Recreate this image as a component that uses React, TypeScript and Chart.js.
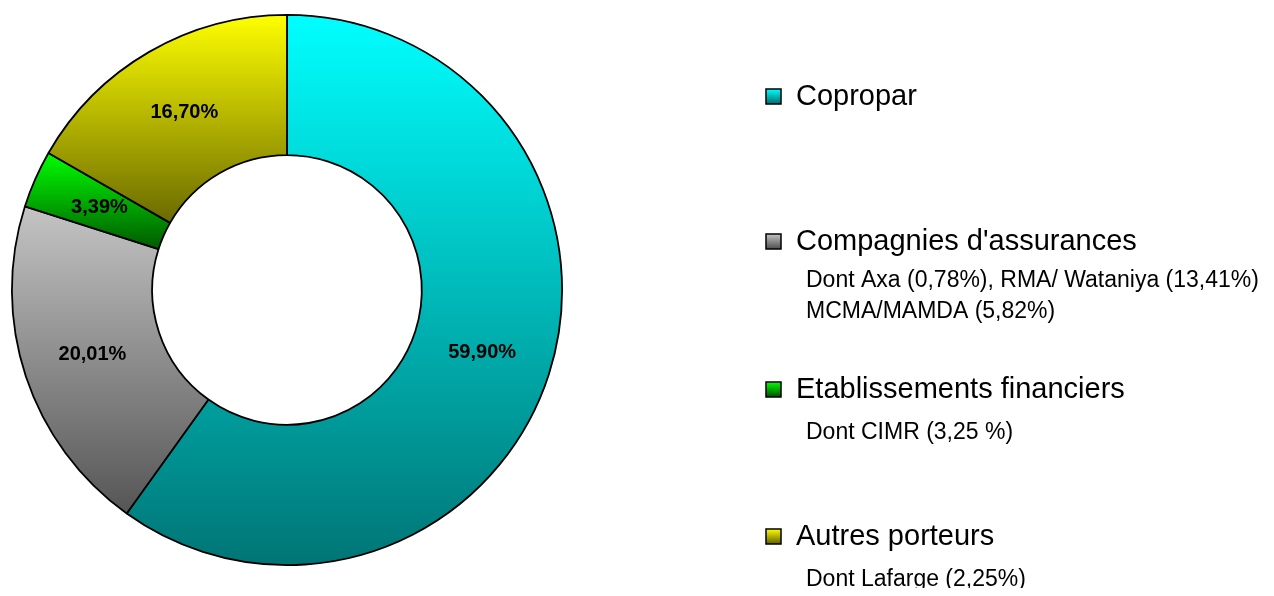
import React, { useEffect, useRef } from "react";
import { Chart, registerables } from "chart.js";

Chart.register(...registerables);

const categories = ["Copropar", "Compagnies d'assurances", "Etablissements financiers", "Autres porteurs"];
const shares = [59.9, 20.01, 3.39, 16.7];
const valueLabels = ["59,90%", "20,01%", "3,39%", "16,70%"];
const subLabels: string[][] = [
  [],
  ["Dont Axa (0,78%), RMA/ Wataniya (13,41%)", "MCMA/MAMDA (5,82%)"],
  ["Dont CIMR (3,25 %)"],
  ["Dont Lafarge (2,25%)"],
];
const topColors = ["#00FFFF", "#C4C4C4", "#00FF00", "#FFFF00"];
const bottomColors = ["#007575", "#555555", "#005A00", "#6A6A00"];

const CUTOUT = 0.49;
const FONT = "'Liberation Sans', Arial, sans-serif";

function segmentGradient(ctx: any) {
  const chart = ctx.chart;
  const i = ctx.dataIndex;
  const area = chart.chartArea;
  if (!area || i === undefined) return topColors[i ?? 0];
  const cx = (area.left + area.right) / 2;
  const cy = (area.top + area.bottom) / 2;
  const R = Math.min(area.right - area.left, area.bottom - area.top) / 2;
  const r = R * CUTOUT;
  const total = shares.reduce((a, b) => a + b, 0);
  let before = 0;
  for (let k = 0; k < i; k++) before += shares[k];
  const a0 = -Math.PI / 2 + (2 * Math.PI * before) / total;
  const a1 = a0 + (2 * Math.PI * shares[i]) / total;
  let ymin = Infinity;
  let ymax = -Infinity;
  const n = 120;
  for (let s = 0; s <= n; s++) {
    const a = a0 + ((a1 - a0) * s) / n;
    for (const rr of [R, r]) {
      const y = cy + rr * Math.sin(a);
      if (y < ymin) ymin = y;
      if (y > ymax) ymax = y;
    }
  }
  const g = chart.ctx.createLinearGradient(0, ymin, 0, ymax);
  g.addColorStop(0, topColors[i]);
  g.addColorStop(1, bottomColors[i]);
  return g;
}

const valueLabelPlugin = {
  id: "valueLabels",
  afterDatasetsDraw(chart: any) {
    const c = chart.ctx;
    const meta = chart.getDatasetMeta(0);
    c.save();
    c.font = `bold 20px ${FONT}`;
    c.fillStyle = "#000";
    c.textAlign = "center";
    c.textBaseline = "middle";
    meta.data.forEach((arc: any, i: number) => {
      const p = arc.tooltipPosition();
      c.fillText(valueLabels[i], p.x, p.y);
    });
    c.restore();
  },
};

const legendPlugin = {
  id: "customLegend",
  afterDraw(chart: any) {
    const c = chart.ctx;
    const mainY = [88, 233, 381, 528];
    const subY = [[], [273, 304], [425], [572]];
    const boxX = 758;
    const textX = 788;
    const subX = 798;
    c.save();
    categories.forEach((name, i) => {
      const y = mainY[i];
      const g = c.createLinearGradient(0, y - 7, 0, y + 7);
      g.addColorStop(0, topColors[i]);
      g.addColorStop(1, bottomColors[i]);
      c.fillStyle = g;
      c.fillRect(boxX, y - 7, 15, 15);
      c.lineWidth = 1.5;
      c.strokeStyle = "#000";
      c.strokeRect(boxX, y - 7, 15, 15);
      c.fillStyle = "#000";
      c.font = `29px ${FONT}`;
      c.textAlign = "left";
      c.textBaseline = "middle";
      c.fillText(name, textX, y + 1);
      c.font = `23px ${FONT}`;
      subLabels[i].forEach((s, k) => {
        c.fillText(s, subX, (subY[i] as number[])[k]);
      });
    });
    c.restore();
  },
};

export default function App() {
  const ref = useRef<HTMLCanvasElement>(null);
  useEffect(() => {
    if (!ref.current) return;
    const chart = new Chart(ref.current, {
      type: "doughnut",
      data: {
        labels: categories,
        datasets: [
          {
            data: shares,
            backgroundColor: segmentGradient as any,
            borderColor: "#000000",
            borderWidth: 1.8,
          },
        ],
      },
      options: {
        responsive: false,
        animation: false,
        cutout: `${CUTOUT * 100}%`,
        layout: { padding: { left: 3, top: 6, right: 703, bottom: 30 } },
        plugins: {
          legend: { display: false },
          tooltip: { enabled: false },
        },
      },
      plugins: [valueLabelPlugin, legendPlugin],
    });
    return () => chart.destroy();
  }, []);
  return (
    <canvas
      ref={ref}
      width={1258}
      height={588}
      style={{ display: "block", marginBottom: -8 }}
    />
  );
}
